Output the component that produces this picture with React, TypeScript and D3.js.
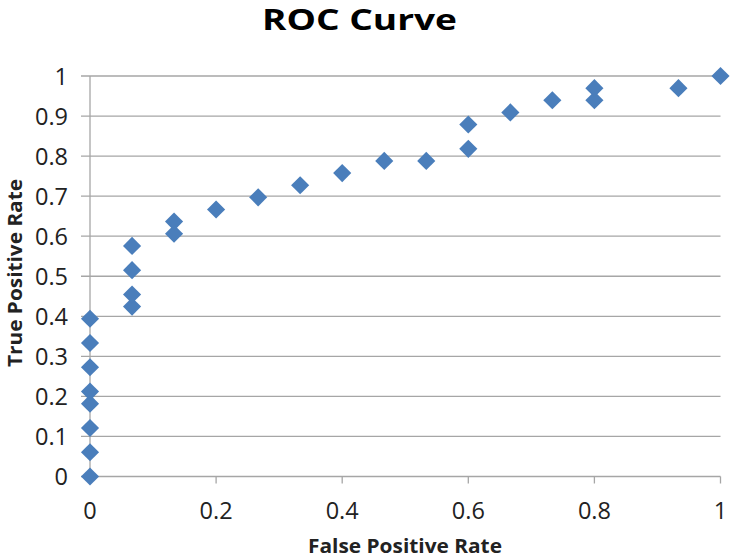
import React from "react";
import * as d3 from "d3";

const fprValues = [0, 0, 0, 0, 0, 0, 0, 0, 0.0667, 0.0667, 0.0667, 0.0667, 0.1333, 0.1333, 0.2, 0.2667, 0.3333, 0.4, 0.4667, 0.5333, 0.6, 0.6, 0.6667, 0.7333, 0.8, 0.8, 0.9333, 1];
const tprValues = [0, 0.0606, 0.1212, 0.1818, 0.2121, 0.2727, 0.3333, 0.3939, 0.4242, 0.4545, 0.5152, 0.5758, 0.6061, 0.6364, 0.6667, 0.697, 0.7273, 0.7576, 0.7879, 0.7879, 0.8182, 0.8788, 0.9091, 0.9394, 0.9394, 0.9697, 0.9697, 1];
const xTicks = [0, 0.2, 0.4, 0.6, 0.8, 1];
const yTicks = [0, 0.1, 0.2, 0.3, 0.4, 0.5, 0.6, 0.7, 0.8, 0.9, 1];

const W = 735, H = 560;

export default function App() {
  const x = d3.scaleLinear().domain([0, 1]).range([90, 720.5]);
  const y = d3.scaleLinear().domain([0, 1]).range([476.5, 76]);
  const font = "'Open Sans', 'Liberation Sans', sans-serif";
  const diamond = d3.symbol().type(d3.symbolDiamond2).size(210)();
  const pts = fprValues.map((f, i) => ({ f, t: tprValues[i] }));
  return (
    <svg width={W} height={H} style={{ position: "absolute", left: 0, top: 0, background: "#fff" }}>
      <text x={359.5} y={30} textAnchor="middle" fontFamily={font} fontWeight="bold" fontSize={29} textLength={195} lengthAdjust="spacingAndGlyphs" fill="#000">ROC Curve</text>
      {yTicks.map((t) => (
        <g key={"y" + t}>
          <line x1={81} x2={720.5} y1={y(t)} y2={y(t)} stroke="#a6a6a6" strokeWidth={1.3} />
          <text x={68} y={y(t) + 8.5} textAnchor="end" fontFamily={font} fontSize={23.5} fill="#222">{String(t)}</text>
        </g>
      ))}
      <line x1={x(0)} x2={x(0)} y1={y(0)} y2={y(1)} stroke="#a6a6a6" strokeWidth={1.3} />
      {xTicks.map((t) => (
        <g key={"x" + t}>
          <line x1={x(t)} x2={x(t)} y1={y(0)} y2={y(0) + 7} stroke="#a6a6a6" strokeWidth={1.3} />
          <text x={x(t)} y={519} textAnchor="middle" fontFamily={font} fontSize={23.5} fill="#222">{String(t)}</text>
        </g>
      ))}
      {pts.map((p, i) => (
        <path key={i} d={diamond} transform={`translate(${x(p.f)},${y(p.t)})`} fill="#4a7ebb" />
      ))}
      <text x={405} y={553} textAnchor="middle" fontFamily={font} fontWeight="bold" fontSize={20} textLength={194} lengthAdjust="spacingAndGlyphs" fill="#222">False Positive Rate</text>
      <text transform={`translate(21.5,273) rotate(-90)`} textAnchor="middle" fontFamily={font} fontWeight="bold" fontSize={20} textLength={188} lengthAdjust="spacingAndGlyphs" fill="#222">True Positive Rate</text>
    </svg>
  );
}
